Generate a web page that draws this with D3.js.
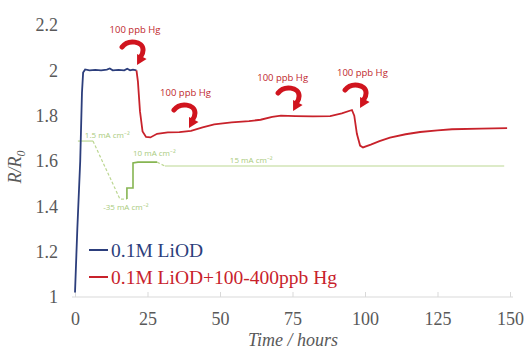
<!DOCTYPE html>
<html>
<head>
<meta charset="utf-8">
<script src="https://cdn.jsdelivr.net/npm/d3@7"></script>
<style>
  body { margin: 0; background: white; }
  svg { display: block; }
</style>
</head>
<body>
<svg id="containerSVG" width="526" height="352"></svg>
<script>

//DATI

var tickX = [0, 25, 50, 75, 100, 125, 150];
var tickY = [1, 1.2, 1.4, 1.6, 1.8, 2, 2.2];

// 0.1M LiOD  [ore, R/R0]
var datiLiOD = [
    [0, 1.02], [0.8, 1.3], [1.8, 1.6], [2.4, 1.9], [2.8, 1.99], [3.5, 2.004],
    [5, 2.0], [7, 2.002], [9, 2.0], [11, 2.003], [12, 2.008], [13, 2.0],
    [15, 2.002], [17, 2.0], [18, 2.007], [19, 2.0], [20, 2.003], [21.2, 2.0]
];

// 0.1M LiOD + Hg
var datiHg = [
    [21.2, 2.0], [21.7, 1.95], [22.4, 1.82], [23.3, 1.73], [24.5, 1.706],
    [26, 1.704], [28.3, 1.72], [32, 1.726], [36, 1.727], [40, 1.733],
    [44, 1.748], [48, 1.762], [54, 1.77], [60, 1.776], [64, 1.782],
    [68, 1.795], [71, 1.8], [76, 1.798], [82, 1.797], [88, 1.798],
    [92, 1.81], [95.5, 1.825], [96.3, 1.8], [97.2, 1.72], [98.3, 1.668],
    [99.3, 1.66], [102, 1.672], [105, 1.688], [108.6, 1.703], [114, 1.718],
    [119, 1.728], [125, 1.735], [130, 1.74], [140, 1.743], [149, 1.745]
];

// densita di corrente (linea verde)
var correnteChiara = [
    [1, 1.688], [6.2, 1.688]
];
var correnteTratteggio1 = [
    [6.2, 1.688], [15.5, 1.432], [17.9, 1.432]
];
var correnteGradini = [
    [17.9, 1.432], [17.9, 1.481], [20, 1.481], [20, 1.591], [21.7, 1.595], [28.3, 1.595]
];
var correnteTratteggio2 = [
    [28.3, 1.595], [31, 1.578]
];
var correnteFinale = [
    [31, 1.578], [148, 1.578]
];

var etichetteCorrente = [
    { testo: "1.5 mA cm\u207B\u00B2", t: 3.4, v: 1.715 },
    { testo: "10 mA cm\u207B\u00B2", t: 20, v: 1.635 },
    { testo: "15 mA cm\u207B\u00B2", t: 53.4, v: 1.604 },
    { testo: "-35 mA cm\u207B\u00B2", t: 9.7, v: 1.397 }
];

// aggiunte di mercurio: punta della freccia e centro della scritta
var aggiunte = [
    { testo: "100 ppb Hg", t: 21.4, v: 2.028, lt: 20.7, lv: 2.178 },
    { testo: "100 ppb Hg", t: 39.3, v: 1.75, lt: 38.1, lv: 1.90 },
    { testo: "100 ppb Hg", t: 75.2, v: 1.825, lt: 71.6, lv: 1.966 },
    { testo: "100 ppb Hg", t: 98.3, v: 1.838, lt: 99.1, lv: 1.988 }
];

var legenda = [
    { testo: "0.1M LiOD", colore: "#2c3e7c" },
    { testo: "0.1M LiOD+100-400ppb Hg", colore: "#c8222b" }
];

//VARIABILI

var svg = d3.select("#containerSVG");

var x = d3.scaleLinear().domain([0, 150]).range([75, 510]);
var y = d3.scaleLinear().domain([1, 2.2]).range([297, 25]);

var linea = d3.line()
    .x(d => x(d[0]))
    .y(d => y(d[1]));

var serif = "'Liberation Serif', 'Times New Roman', serif";
var sans = "'Open Sans', 'Liberation Sans', sans-serif";

//FUNZIONI

function disegnaAssi(){

    var assX = d3.axisBottom(x)
        .tickValues(tickX)
        .tickSize(0)
        .tickPadding(15)
        .tickFormat(d3.format("d"));

    var gx = svg.append("g")
        .attr("transform", "translate(0," + y(1) + ")")
        .call(assX);

    gx.select(".domain")
        .attr("stroke", "#d9d9d9")
        .attr("stroke-width", 1.2)
        .attr("d", "M" + (x(0) - 3) + ",0H" + (x(150) + 3));

    gx.selectAll(".tick")
        .append("line")
        .attr("y1", 0)
        .attr("y2", -5)
        .attr("stroke", "#d9d9d9");

    gx.selectAll("text")
        .attr("fill", "#595959")
        .style("font-family", serif)
        .style("font-size", "18px");

    var assY = d3.axisLeft(y)
        .tickValues(tickY)
        .tickSize(0)
        .tickPadding(17)
        .tickFormat(d => d3.format("")(+d.toFixed(1)));

    var gy = svg.append("g")
        .attr("transform", "translate(" + x(0) + ",0)")
        .call(assY);

    gy.select(".domain").remove();

    gy.selectAll("text")
        .attr("fill", "#595959")
        .style("font-family", serif)
        .style("font-size", "18px");

    // titoli
    var titoloY = svg.append("text")
        .attr("transform", "translate(21,167) rotate(-90)")
        .attr("text-anchor", "middle")
        .attr("fill", "#595959")
        .style("font-family", serif)
        .style("font-style", "italic")
        .style("font-size", "18px");

    titoloY.append("tspan").text("R/R");
    titoloY.append("tspan")
        .attr("dy", 4)
        .style("font-size", "12px")
        .text("0");

    svg.append("text")
        .attr("x", 293)
        .attr("y", 346)
        .attr("text-anchor", "middle")
        .attr("fill", "#595959")
        .style("font-family", serif)
        .style("font-style", "italic")
        .style("font-size", "18px")
        .text("Time / hours");

}

function disegnaCorrente(){

    var verdeChiaro = "#bcd792";
    var verdeScuro = "#86b552";

    svg.append("path")
        .datum(correnteChiara)
        .attr("d", linea)
        .attr("fill", "none")
        .attr("stroke", verdeChiaro)
        .attr("stroke-width", 1.2);

    svg.append("path")
        .datum(correnteTratteggio1)
        .attr("d", linea)
        .attr("fill", "none")
        .attr("stroke", verdeChiaro)
        .attr("stroke-width", 1.2)
        .attr("stroke-dasharray", "3,2");

    svg.append("path")
        .datum(correnteGradini)
        .attr("d", linea)
        .attr("fill", "none")
        .attr("stroke", verdeScuro)
        .attr("stroke-width", 1.6);

    svg.append("path")
        .datum(correnteTratteggio2)
        .attr("d", linea)
        .attr("fill", "none")
        .attr("stroke", verdeChiaro)
        .attr("stroke-width", 1.2)
        .attr("stroke-dasharray", "3,2");

    svg.append("path")
        .datum(correnteFinale)
        .attr("d", linea)
        .attr("fill", "none")
        .attr("stroke", verdeChiaro)
        .attr("stroke-width", 1.2);

    svg.selectAll(".etichettaCorrente")
        .data(etichetteCorrente)
        .enter()
        .append("text")
        .attr("class", "etichettaCorrente")
        .attr("x", d => x(d.t))
        .attr("y", d => y(d.v))
        .attr("dy", "0.35em")
        .attr("fill", "#a9cb7c")
        .style("font-family", sans)
        .style("font-size", "8px")
        .text(d => d.testo);

}

function disegnaSerie(){

    svg.append("path")
        .datum(datiLiOD)
        .attr("d", linea)
        .attr("fill", "none")
        .attr("stroke", legenda[0].colore)
        .attr("stroke-width", 1.8);

    svg.append("path")
        .datum(datiHg)
        .attr("d", linea)
        .attr("fill", "none")
        .attr("stroke", legenda[1].colore)
        .attr("stroke-width", 1.8);

}

function disegnaAggiunte(){

    var rosso = "#d0141e";

    var g = svg.selectAll(".aggiunta")
        .data(aggiunte)
        .enter()
        .append("g")
        .attr("class", "aggiunta");

    g.append("text")
        .attr("x", d => x(d.lt))
        .attr("y", d => y(d.lv))
        .attr("dy", "0.35em")
        .attr("text-anchor", "middle")
        .attr("fill", "#c0272d")
        .style("font-family", sans)
        .style("font-size", "9.5px")
        .text(d => d.testo);

    var freccia = g.append("g")
        .attr("transform", d => "translate(" + x(d.t) + "," + y(d.v) + ")");

    freccia.append("path")
        .attr("d", "M-15,-17 C-9,-25 6,-23 6,-14 C6,-11 5,-9 3.5,-7")
        .attr("fill", "none")
        .attr("stroke", rosso)
        .attr("stroke-width", 5)
        .attr("stroke-linecap", "round");

    freccia.append("path")
        .attr("d", "M0,1 L9.5,-5 L0,-10 Z")
        .attr("fill", rosso);

}

function disegnaLegenda(){

    var g = svg.selectAll(".voce")
        .data(legenda)
        .enter()
        .append("g")
        .attr("class", "voce")
        .attr("transform", (d, i) => "translate(89," + (250 + 27 * i) + ")");

    g.append("line")
        .attr("x1", 0)
        .attr("x2", 19)
        .attr("stroke", d => d.colore)
        .attr("stroke-width", 2);

    g.append("text")
        .attr("x", 22)
        .attr("dy", "0.35em")
        .attr("fill", d => d.colore)
        .style("font-family", serif)
        .style("font-size", "19.5px")
        .text(d => d.testo);

}

disegnaAssi();
disegnaCorrente();
disegnaSerie();
disegnaAggiunte();
disegnaLegenda();

</script>
</body>
</html>
